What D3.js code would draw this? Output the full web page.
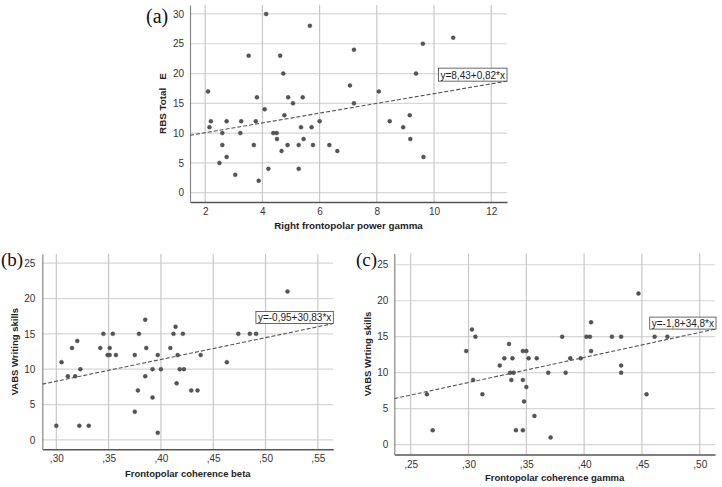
<!DOCTYPE html>
<html><head><meta charset="utf-8">
<script src="https://cdn.jsdelivr.net/npm/d3@7/dist/d3.min.js"></script>
<style>
body{margin:0;background:#fff;}
svg{display:block;}
</style></head>
<body>
<svg id="chart" width="722" height="487"></svg>
<script>
// ---------- DATA ----------
// Panel (a): Right frontopolar power gamma vs RBS Total E
const aX = [2.1,2.2,2.15,2.6,2.6,2.5,2.75,2.75,3.05,3.26,3.23,3.52,3.7,3.77,3.81,3.87,4.08,4.13,4.21,4.38,4.5,4.51,4.62,4.67,4.73,4.77,4.88,4.9,5.07,5.27,5.27,5.35,5.41,5.44,5.66,5.72,5.77,6.0,6.34,6.62,7.06,7.2,7.2,8.07,8.45,8.92,9.15,9.17,9.37,9.61,9.63,10.67];
const aY = [17,12,11,10,8,5,6,12,3,12,10,23,8,12,16,2,14,30,4,10,10,9,23,7,20,13,8,16,15,8,4,11,16,9,28,11,8,12,8,7,18,24,15,17,12,11,13,9,20,25,6,26];
const aXTicks = [2,4,6,8,10,12];
const aXTickLabels = ["2","4","6","8","10","12"];
const aYTicks = [0,5,10,15,20,25,30];
const aYTickLabels = ["0","5","10","15","20","25","30"];
const aFit = [8.43, 0.82];
const aFitLabel = "y=8,43+0,82*x";

// Panel (b): Frontopolar coherence beta vs VABS Writing skills
const bX = [0.300,0.305,0.311,0.318,0.315,0.320,0.323,0.322,0.331,0.342,0.345,0.354,0.351,0.349,0.351,0.357,0.375,0.375,0.378,0.379,0.385,0.385,0.386,0.392,0.392,0.397,0.397,0.400,0.409,0.412,0.414,0.415,0.416,0.418,0.422,0.421,0.429,0.435,0.438,0.463,0.474,0.485,0.491,0.521];
const bY = [2,11,9,9,13,14,10,2,2,13,15,15,13,12,12,12,12,4,7,15,17,9,13,6,10,12,1,10,13,15,16,8,12,10,10,15,7,7,12,11,15,15,15,21];
const bXTicks = [0.30,0.35,0.40,0.45,0.50,0.55];
const bXTickLabels = [",30",",35",",40",",45",",50",",55"];
const bYTicks = [0,5,10,15,20,25];
const bYTickLabels = ["0","5","10","15","20","25"];
const bFit = [-0.95, 30.83];
const bFitLabel = "y=-0,95+30,83*x";

// Panel (c): Frontopolar coherence gamma vs VABS Wrting skills
const cX = [0.264,0.269,0.298,0.303,0.306,0.304,0.312,0.327,0.331,0.338,0.335,0.336,0.339,0.337,0.347,0.341,0.347,0.348,0.350,0.347,0.350,0.352,0.357,0.359,0.369,0.371,0.381,0.384,0.388,0.397,0.402,0.405,0.406,0.406,0.424,0.432,0.432,0.432,0.447,0.454,0.461,0.472];
const cY = [7,2,13,16,15,9,7,11,12,12,14,10,10,9,9,2,2,6,8,13,13,12,4,12,10,1,15,10,12,12,15,15,17,13,15,15,11,10,21,7,15,15];
const cXTicks = [0.25,0.30,0.35,0.40,0.45,0.50];
const cXTickLabels = [",25",",30",",35",",40",",45",",50"];
const cYTicks = [0,5,10,15,20,25];
const cYTickLabels = ["0","5","10","15","20","25"];
const cFit = [-1.8, 34.8];
const cFitLabel = "y=-1,8+34,8*x";

// ---------- DRAW ----------
const svg = d3.select("#chart");
const FONT = "'Liberation Sans', Arial, sans-serif";

function panel(cfg){
  const g = svg.append("g");
  const x = d3.scaleLinear().domain(cfg.xDomain).range([cfg.left, cfg.right]);
  const y = d3.scaleLinear().domain(cfg.yDomain).range([cfg.bottom, cfg.top]);
  const clipId = "clip" + cfg.id;
  svg.append("clipPath").attr("id", clipId).append("rect")
    .attr("x", cfg.left).attr("y", cfg.top)
    .attr("width", cfg.right - cfg.left).attr("height", cfg.bottom - cfg.top);

  // gridlines
  g.selectAll(".hg").data(cfg.yTicks).join("line")
    .attr("x1", cfg.left).attr("x2", cfg.right)
    .attr("y1", d => y(d)).attr("y2", d => y(d))
    .attr("stroke", "#d6d6d6").attr("stroke-width", 1.2);
  g.selectAll(".vg").data(cfg.xTicks).join("line")
    .attr("y1", cfg.top).attr("y2", cfg.bottom)
    .attr("x1", d => x(d)).attr("x2", d => x(d))
    .attr("stroke", "#c8c8c8").attr("stroke-width", 1.2);

  // axes via d3
  const xAxis = d3.axisBottom(x).tickValues(cfg.xTicks)
    .tickFormat((d,i) => cfg.xTickLabels[i]).tickSize(0).tickPadding(cfg.xPad);
  const yAxis = d3.axisLeft(y).tickValues(cfg.yTicks)
    .tickFormat((d,i) => cfg.yTickLabels[i]).tickSize(0).tickPadding(cfg.yPad);
  const gx = g.append("g").attr("transform", `translate(0,${cfg.bottom})`).call(xAxis);
  const gy = g.append("g").attr("transform", `translate(${cfg.left},0)`).call(yAxis);
  gx.select(".domain").attr("stroke", "#555").attr("stroke-width", 1.6);
  gy.select(".domain").attr("stroke", "#888").attr("stroke-width", 1.2);
  [gx, gy].forEach(a => a.selectAll("text")
    .attr("font-family", FONT).attr("font-size", cfg.tickSize).attr("fill", "#333"));

  // regression line
  const xd = x.domain();
  g.append("line")
    .attr("clip-path", `url(#${clipId})`)
    .attr("x1", x(xd[0])).attr("y1", y(cfg.fit[0] + cfg.fit[1]*xd[0]))
    .attr("x2", x(xd[1])).attr("y2", y(cfg.fit[0] + cfg.fit[1]*xd[1]))
    .attr("stroke", "#555").attr("stroke-width", 1.1).attr("stroke-dasharray", "4,2");

  // points
  g.selectAll(".pt").data(cfg.xs.map((v,i) => [v, cfg.ys[i]])).join("circle")
    .attr("cx", d => x(d[0])).attr("cy", d => y(d[1])).attr("r", 2)
    .attr("fill", "#555").attr("stroke", "#3a3a3a").attr("stroke-width", 0.4);

  // fit label box
  const ex = xd[1], ey = cfg.fit[0] + cfg.fit[1]*xd[1];
  const lbl = g.append("g");
  const t = lbl.append("text").text(cfg.fitLabel)
    .attr("font-family", FONT).attr("font-size", cfg.fitSize).attr("fill", "#222");
  const bb = t.node().getBBox();
  const bw = bb.width + 4, bh = cfg.fitBoxH;
  const bx = x(ex) - bw + cfg.boxDx, by = y(ey) - bh;
  lbl.insert("rect", "text").attr("x", bx).attr("y", by).attr("width", bw).attr("height", bh)
    .attr("fill", "#fff").attr("stroke", "#444").attr("stroke-width", 0.8);
  t.attr("x", bx + 2).attr("y", by + bh - 2.5);

  // axis titles
  g.append("text").text(cfg.xTitle)
    .attr("x", (cfg.left + cfg.right)/2).attr("y", cfg.xTitleY)
    .attr("text-anchor", "middle").attr("font-family", FONT)
    .attr("font-weight", "bold").attr("font-size", cfg.titleSize).attr("fill", "#222");
  g.append("text").text(cfg.yTitle)
    .attr("transform", `translate(${cfg.yTitleX},${(cfg.top + cfg.bottom)/2}) rotate(-90)`)
    .attr("text-anchor", "middle").attr("font-family", FONT).attr("xml:space", "preserve")
    .style("white-space", "pre")
    .attr("font-weight", "bold").attr("font-size", cfg.titleSize).attr("fill", "#222");

  // panel tag
  svg.append("text").text(cfg.tag)
    .attr("x", cfg.tagX).attr("y", cfg.tagY)
    .attr("font-family", "'Liberation Serif', 'Times New Roman', serif")
    .attr("font-size", cfg.tagSize).attr("fill", "#111");
}

panel({id:"a", xs:aX, ys:aY, xDomain:[1.47,12.55], yDomain:[-1.56,31.5],
  left:190, right:507, top:5, bottom:202,
  xTicks:aXTicks, xTickLabels:aXTickLabels, yTicks:aYTicks, yTickLabels:aYTickLabels,
  fit:aFit, fitLabel:aFitLabel, fitSize:10, fitBoxH:13, boxDx:0,
  xTitle:"Right frontopolar power gamma", yTitle:"RBS Total   E",
  xTitleY:229, yTitleX:166, tickSize:10, titleSize:9.8, xPad:6, yPad:6,
  tag:"(a)", tagX:146, tagY:23, tagSize:20});

panel({id:"b", xs:bX, ys:bY, xDomain:[0.2866,0.5648], yDomain:[-1.33,26.3],
  left:42.3, right:333.3, top:254, bottom:449.3,
  xTicks:bXTicks, xTickLabels:bXTickLabels, yTicks:bYTicks, yTickLabels:bYTickLabels,
  fit:bFit, fitLabel:bFitLabel, fitSize:10, fitBoxH:12, boxDx:0,
  xTitle:"Frontopolar coherence beta", yTitle:"VABS Writing skills",
  xTitleY:477, yTitleX:18, tickSize:10, titleSize:9.5, xPad:6, yPad:7,
  tag:"(b)", tagX:1, tagY:266, tagSize:19});

panel({id:"c", xs:cX, ys:cY, xDomain:[0.2358,0.5132], yDomain:[-1.36,26.56],
  left:394.3, right:715, top:253.5, bottom:454.5,
  xTicks:cXTicks, xTickLabels:cXTickLabels, yTicks:cYTicks, yTickLabels:cYTickLabels,
  fit:cFit, fitLabel:cFitLabel, fitSize:10, fitBoxH:12, boxDx:1,
  xTitle:"Frontopolar coherence gamma", yTitle:"VABS Wrting skills",
  xTitleY:481, yTitleX:371, tickSize:10, titleSize:9.5, xPad:6, yPad:6,
  tag:"(c)", tagX:356, tagY:266, tagSize:19});
</script>
</body></html>
